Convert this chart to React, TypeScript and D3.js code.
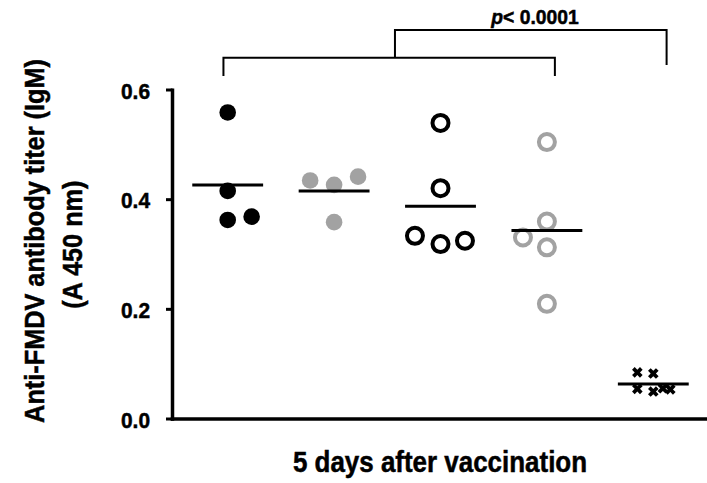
import React from "react";
import * as d3 from "d3";

const W = 707;
const H = 483;

// anti-FMDV IgM titer (A450), 5 days after vaccination, one array per group
const group1 = [0.559, 0.416, 0.363, 0.369];
const group2 = [0.435, 0.427, 0.442, 0.359];
const group3 = [0.54, 0.421, 0.334, 0.319, 0.325];
const group4 = [0.505, 0.36, 0.331, 0.313, 0.21];
const group5 = [0.085, 0.083, 0.055, 0.05, 0.056, 0.054];

// horizontal scatter of each dot inside its column (in column units)
const jitter1 = [0, 0, 0, 0.225];
const jitter2 = [-0.225, 0, 0.225, 0];
const jitter3 = [0, 0, -0.24, 0, 0.23];
const jitter4 = [0, 0, -0.225, 0, 0];
const jitter5 = [-0.15, 0, -0.15, 0, 0.09, 0.16];

const yTicks = [0, 0.2, 0.4, 0.6];
const yLabel = ["Anti-FMDV antibody titer (IgM)", "(A 450 nm)"];
const xLabel = "5 days after vaccination";
const pLabel = "0.0001";

const groups = [group1, group2, group3, group4, group5];
const jitters = [jitter1, jitter2, jitter3, jitter4, jitter5];
const markers = ["dot", "dotGray", "ring", "ringGray", "cross"];

const GRAY = "#a2a2a2";
const FONT = "'Liberation Sans', Arial, sans-serif";

const Marker = ({ kind, x, y }) => {
  if (kind === "dot") return <circle cx={x} cy={y} r={8.3} fill="#000" />;
  if (kind === "dotGray") return <circle cx={x} cy={y} r={8.3} fill={GRAY} />;
  if (kind === "ring")
    return <circle cx={x} cy={y} r={8} fill="none" stroke="#000" strokeWidth={4} />;
  if (kind === "ringGray")
    return <circle cx={x} cy={y} r={8} fill="none" stroke={GRAY} strokeWidth={4} />;
  const cross = d3.symbol(d3.symbolCross, 70)();
  return <path d={cross} transform={`translate(${x},${y}) rotate(45)`} fill="#000" />;
};

export default function App() {
  const xScale = d3.scaleLinear().domain([0, 4]).range([227.7, 653.3]);
  const yScale = d3.scaleLinear().domain([0, 0.6]).range([419, 90]);
  const fmt = d3.format(".1f");
  const axisX = 172.5;

  // brackets
  const lowY = 57.7;
  const highY = 30;
  const lowL = xScale(-0.04);
  const lowR = xScale(3.075);
  const hiL = xScale(1.572);
  const hiR = xScale(4.125);

  return (
    <svg
      width={W}
      height={H}
      style={{ position: "absolute", left: 0, top: 0, background: "#fff" }}
      fontFamily={FONT}
      fontWeight="bold"
    >
      {/* axes */}
      <line x1={axisX} x2={axisX} y1={yScale(0.6) - 1.5} y2={yScale(0) + 1.75} stroke="#000" strokeWidth={3.5} />
      <line x1={axisX - 1.75} x2={W} y1={yScale(0)} y2={yScale(0)} stroke="#000" strokeWidth={3.5} />

      <g stroke="#000" strokeWidth={0.5}>
        {yTicks.map((t) => (
          <g key={t}>
            <line x1={166} x2={axisX} y1={yScale(t)} y2={yScale(t)} stroke="#000" strokeWidth={3} />
            <text
              transform={`translate(150,${yScale(t) + 8.5}) scale(0.95,1)`}
              textAnchor="end"
              fontSize={22}
            >
              {fmt(t)}
            </text>
          </g>
        ))}

        {/* y label */}
        <g transform="translate(44,241) rotate(-90) scale(0.92,1)">
          <text x={0} y={0} textAnchor="middle" fontSize={27.5}>{yLabel[0]}</text>
          <text x={-4} y={38} textAnchor="middle" fontSize={27.5}>{yLabel[1]}</text>
        </g>

        {/* x label */}
        <text transform="translate(440,472) scale(0.88,1)" textAnchor="middle" fontSize={29.5}>
          {xLabel}
        </text>

        <text transform="translate(535,23.5) scale(0.92,1)" textAnchor="middle" fontSize={21}>
          <tspan fontStyle="italic">p</tspan>
          {"< " + pLabel}
        </text>
      </g>

      {/* points and means */}
      {groups.map((vals, gi) => {
        const m = d3.mean(vals);
        return (
          <g key={gi}>
            {vals.map((v, i) => (
              <Marker key={i} kind={markers[gi]} x={xScale(gi + jitters[gi][i])} y={yScale(v)} />
            ))}
            <line
              x1={xScale(gi - 0.333)}
              x2={xScale(gi + 0.333)}
              y1={yScale(m)}
              y2={yScale(m)}
              stroke="#000"
              strokeWidth={3}
            />
          </g>
        );
      })}

      {/* significance brackets */}
      <g stroke="#000" strokeWidth={2} fill="none">
        <path d={`M${lowL},76V${lowY}H${lowR}V76`} />
        <path d={`M${hiL},${lowY}V${highY}H${hiR}V65`} />
      </g>
    </svg>
  );
}
